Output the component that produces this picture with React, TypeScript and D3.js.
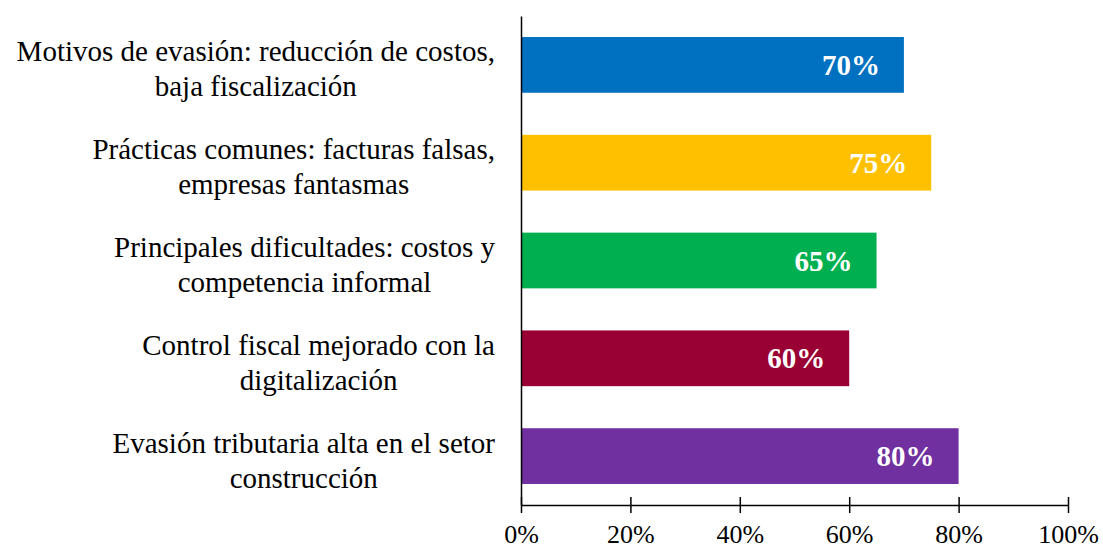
import * as d3 from 'd3';
import React, { useEffect, useRef } from 'react';

const categories = [
  'Motivos de evasión: reducción de costos, baja fiscalización',
  'Prácticas comunes: facturas falsas, empresas fantasmas',
  'Principales dificultades: costos y competencia informal',
  'Control fiscal mejorado con la digitalización',
  'Evasión tributaria alta en el setor construcción',
];

// how each label wraps in the picture
const labelLines = [
  ['Motivos de evasión: reducción de costos,', 'baja fiscalización'],
  ['Prácticas comunes: facturas falsas,', 'empresas fantasmas'],
  ['Principales dificultades: costos y', 'competencia informal'],
  ['Control fiscal mejorado con la', 'digitalización'],
  ['Evasión tributaria alta en el setor', 'construcción'],
];

const values = [70, 75, 65, 60, 80];
const barColors = ['#0070C0', '#FFC000', '#00B050', '#990033', '#7030A0'];
const xTicks = [0, 20, 40, 60, 80, 100];

const FONT = "'Liberation Serif', 'Times New Roman', serif";

const App: React.FC = () => {
  const svgRef = useRef<SVGSVGElement | null>(null);

  useEffect(() => {
    const svg = d3.select(svgRef.current);
    const width = 1103;
    const height = 548;
    const margin = { top: 16, right: 35, bottom: 43, left: 521 };

    svg.attr('width', width).attr('height', height).attr('viewBox', `0 0 ${width} ${height}`);
    svg.selectAll('*').remove();

    const x = d3
      .scaleLinear()
      .domain([0, 100])
      .range([margin.left, width - margin.right]);

    const y = d3
      .scaleBand<string>()
      .domain(categories)
      .range([margin.top, height - margin.bottom])
      .paddingInner(0.43)
      .paddingOuter(0.215);

    // bars
    svg
      .append('g')
      .selectAll('rect')
      .data(categories)
      .join('rect')
      .attr('x', x(0))
      .attr('y', (d) => y(d)!)
      .attr('width', (_, i) => x(values[i]) - x(0))
      .attr('height', y.bandwidth())
      .attr('fill', (_, i) => barColors[i]);

    // value labels inside the bar end
    svg
      .append('g')
      .selectAll('text')
      .data(categories)
      .join('text')
      .attr('x', (_, i) => x(values[i]) - 24)
      .attr('y', (d) => y(d)! + y.bandwidth() / 2 + 10)
      .attr('text-anchor', 'end')
      .style('font-family', FONT)
      .style('font-size', '29px')
      .style('font-weight', 'bold')
      .attr('fill', '#fff')
      .text((_, i) => `${values[i]}%`);

    // y axis: only the line
    svg
      .append('g')
      .attr('transform', `translate(${x(0)},0)`)
      .call(d3.axisLeft(y).tickSize(0).tickFormat(() => ''))
      .call((g) => g.select('.domain').attr('stroke', '#000').attr('stroke-width', 1.5));

    // category labels: lines centred on the widest line, block right edge near axis
    const labels = svg.append('g');
    categories.forEach((c, i) => {
      const cy = y(c)! + y.bandwidth() / 2;
      const t = labels
        .append('text')
        .attr('text-anchor', 'middle')
        .style('font-family', FONT)
        .style('font-size', '29px')
        .attr('fill', '#000');
      labelLines[i].forEach((line, j) => {
        t.append('tspan').attr('y', cy - 3.5 + j * 35).text(line);
      });
      let maxW = 0;
      t.selectAll<SVGTSpanElement, unknown>('tspan').each(function () {
        maxW = Math.max(maxW, this.getComputedTextLength());
      });
      const cx = 495 - maxW / 2;
      t.selectAll('tspan').attr('x', cx);
    });

    // x axis with crossing ticks
    const xAxis = svg
      .append('g')
      .attr('transform', `translate(0,${height - margin.bottom})`)
      .call(
        d3
          .axisBottom(x)
          .tickValues(xTicks)
          .tickFormat((d) => `${d}%`)
          .tickSizeOuter(0),
      );

    xAxis.select('.domain').attr('stroke', '#000').attr('stroke-width', 1.5);
    xAxis
      .selectAll('.tick line')
      .attr('y1', -8)
      .attr('y2', 8)
      .attr('stroke', '#000')
      .attr('stroke-width', 1.5);
    xAxis
      .selectAll('.tick text')
      .attr('y', 38)
      .attr('dy', 0)
      .attr('fill', '#000')
      .style('font-family', FONT)
      .style('font-size', '26px');
  }, []);

  return (
    <div style={{ position: 'absolute', left: 0, top: 0, width: 1103, height: 548, background: '#fff' }}>
      <svg ref={svgRef} style={{ display: 'block' }}></svg>
    </div>
  );
};

export default App;
